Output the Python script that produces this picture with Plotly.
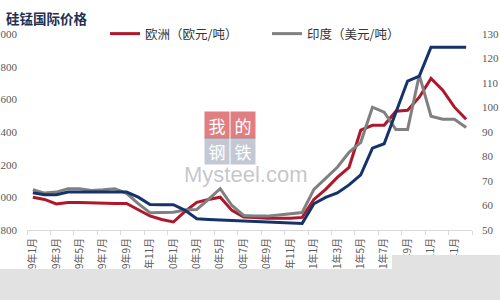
import plotly.graph_objects as go

# ---------------- data ----------------
months = [f"{y}年{m}月" for y in (2019, 2020, 2021, 2022) for m in range(1, 13)][:38]

europe = [1000, 987, 960, 969, 969, 966, 963, 963, 963, 926, 886, 864, 849, 914, 969, 987,
          1001, 920, 879, 877, 872, 872, 872, 877, 987, 1049, 1122, 1184, 1411, 1441, 1441,
          1527, 1533, 1613, 1728, 1656, 1552, 1478]

india = [1047, 1026, 1032, 1053, 1053, 1042, 1046, 1053, 1024, 961, 906, 906, 909, 923, 926, 987,
         1053, 950, 889, 886, 885, 892, 898, 907, 1049, 1116, 1184, 1276, 1337, 1552, 1521,
         1415, 1415, 1748, 1497, 1478, 1478, 1427]

third = [65.2, 64.4, 64.4, 65.5, 65.5, 65.5, 65.5, 65.5, 65.5, 63.4, 60.4, 60.3, 60.3, 58.0,
         54.6, 54.3, 54.1, 53.9, 53.7, 53.5, 53.3, 53.1, 52.9, 52.7, 60.7, 63.3, 65.1, 68.4,
         72.5, 83.4, 85.2, 98.1, 110.8, 112.8, 124.6, 124.6, 124.6, 124.6]

left_ticks = [800, 1000, 1200, 1400, 1600, 1800, 2000]
right_ticks = [50, 60, 70, 80, 90, 100, 110, 120, 130]

title_text = "硅锰国际价格"
name_eu = "欧洲（欧元/吨）"
name_in = "印度（美元/吨）"

# ---------------- layout helpers ----------------
W, H = 500, 300
L, R, T, B = 27, 28, 34, 70
PW, PH = W - L - R, H - T - B


def px(x):
    return (x - L) / PW


def py(y):
    return (T + PH - y) / PH


CJK = "Noto Sans CJK SC"
SERIF = "Liberation Serif"

xi = list(range(len(months)))

fig = go.Figure()
fig.add_trace(go.Scatter(x=xi, y=europe, name=name_eu, mode="lines",
                         line=dict(color="#b0172b", width=3)))
fig.add_trace(go.Scatter(x=xi, y=india, name=name_in, mode="lines",
                         line=dict(color="#808080", width=3)))
fig.add_trace(go.Scatter(x=xi, y=third, name="", mode="lines", yaxis="y2",
                         showlegend=False, line=dict(color="#14336b", width=3)))

fig.update_layout(
    width=W, height=H,
    margin=dict(l=L, r=R, t=T, b=B, autoexpand=False),
    paper_bgcolor="white", plot_bgcolor="white",
    showlegend=True,
    legend=dict(orientation="h", x=px(105), xanchor="left", y=1.0, yanchor="middle",
                bgcolor="rgba(0,0,0,0)", font=dict(family=CJK, size=12.5, color="#333333"),
                entrywidth=117, entrywidthmode="pixels", itemwidth=30,
                tracegroupgap=0),
    xaxis=dict(range=[-0.5, len(months) - 0.5], tickmode="array",
               tickvals=xi[::2], ticktext=months[::2], tickangle=-90,
               showgrid=False, zeroline=False, showline=True, linecolor="#d9d9d9",
               linewidth=1, ticks="", automargin=False, ticklabelstandoff=3,
               tickfont=dict(family=CJK, size=10, color="#595959"),
               minor=dict(tickmode="array",
                          tickvals=[v - 0.5 for v in xi[::2]] + [len(months) - 0.5],
                          ticks="outside", ticklen=4, tickcolor="#d9d9d9")),
    yaxis=dict(range=[800, 2000], tickmode="array", tickvals=left_ticks,
               showgrid=False, zeroline=False, showline=False, ticks="",
               automargin=False, ticklabelstandoff=9,
               tickfont=dict(family=SERIF, size=11, color="#595959")),
    yaxis2=dict(range=[50, 130], tickmode="array", tickvals=right_ticks,
                overlaying="y", side="right", showgrid=False, zeroline=False,
                showline=False, ticks="", automargin=False, ticklabelstandoff=9,
                tickfont=dict(family=SERIF, size=11, color="#595959")),
)

annotations = [
    dict(text=f"<b>{title_text}</b>", x=px(4), y=py(18), xref="paper", yref="paper",
         xanchor="left", yanchor="middle", showarrow=False,
         font=dict(family=CJK, size=13.5, color="#1f3050")),
    dict(text="Mysteel.com", x=px(245), y=py(174), xref="paper", yref="paper",
         xanchor="center", yanchor="middle", showarrow=False,
         font=dict(family="Liberation Sans", size=22, color="rgba(160,160,165,0.6)")),
]
for ch, cx, cy, bg in [("我", 217, 125, "rgba(205,40,45,0.6)"),
                       ("的", 243, 125, "rgba(205,40,45,0.6)"),
                       ("钢", 217, 151, "rgba(120,135,160,0.45)"),
                       ("铁", 243, 151, "rgba(120,135,160,0.45)")]:
    annotations.append(dict(text=ch, x=px(cx), y=py(cy), xref="paper", yref="paper",
                            xanchor="center", yanchor="middle", showarrow=False,
                            width=22, height=24, bgcolor=bg,
                            font=dict(family=CJK, size=17, color="white")))
fig.update_layout(annotations=annotations)

# grey band at the bottom of the picture
band = [(0, 269), (392, 269), (392, 255), (500, 255), (500, 300), (0, 300)]
path = "M " + " L ".join(f"{px(x)},{py(y)}" for x, y in band) + " Z"
fig.add_shape(type="path", path=path, xref="paper", yref="paper", layer="above",
              fillcolor="#e2e2e2", line=dict(width=0))

fig.write_html("out.html")
